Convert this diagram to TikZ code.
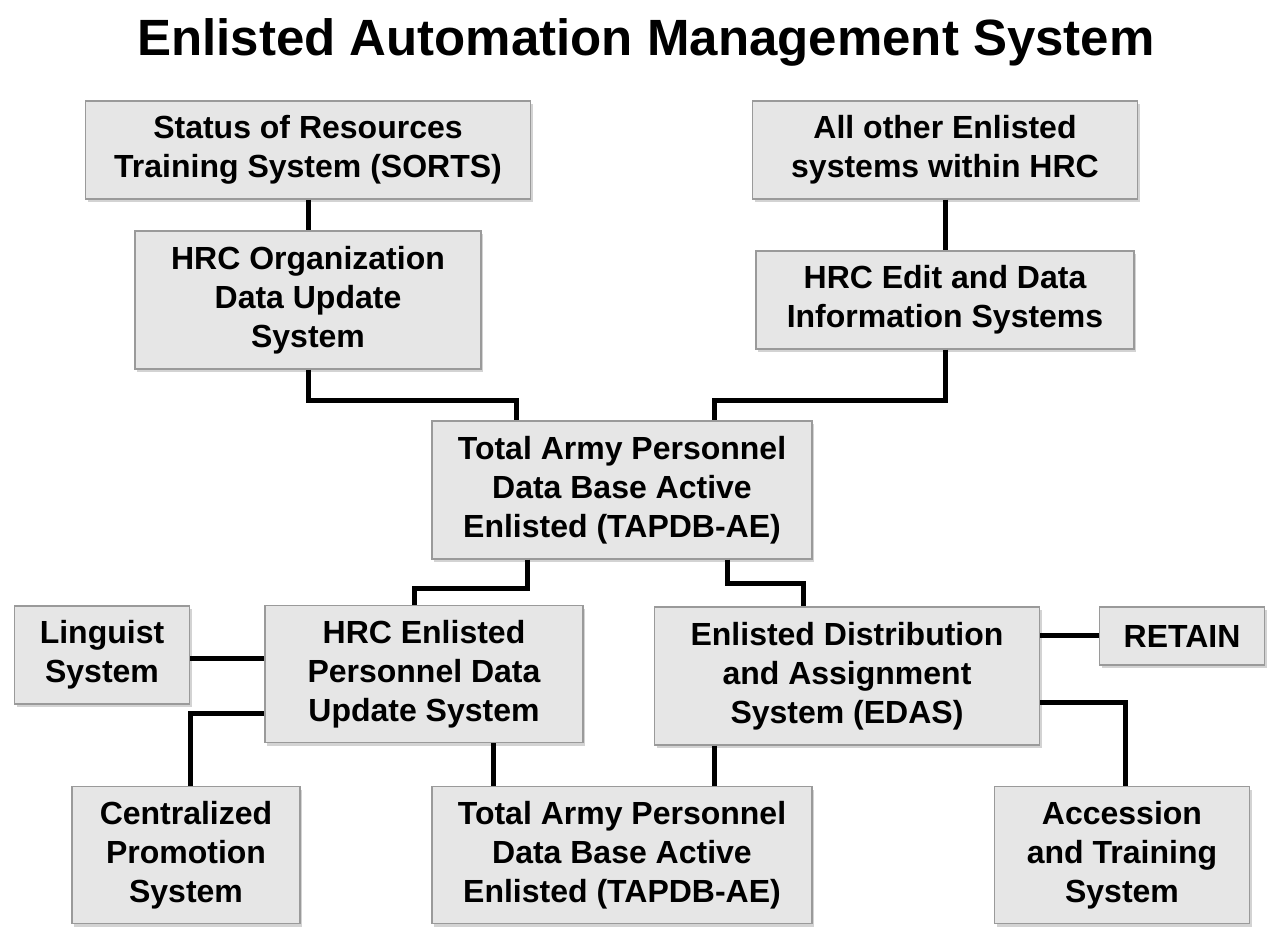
\documentclass[tikz,border=0pt]{standalone}
\usepackage{fontspec}
\setmainfont{Liberation Sans}
\usetikzlibrary{shadows}
\definecolor{boxfill}{HTML}{E6E6E6}
\definecolor{boxline}{HTML}{9A9A9A}
\tikzset{
  sysbox/.style={draw=boxline, line width=1.2pt, fill=boxfill, inner sep=0pt,
    align=center, font=\fontsize{32}{39}\selectfont\bfseries,
    drop shadow={shadow xshift=2pt, shadow yshift=-3pt, opacity=0.35, fill=gray}},
  conn/.style={line width=5pt, line join=miter, draw=black}
}
\begin{document}
\begin{tikzpicture}[x=1pt,y=-1pt]
\useasboundingbox (0,0) rectangle (1277,927);
\node (title) at (646,42) {\fontsize{51}{56}\selectfont\bfseries Enlisted Automation Management System};
\node[sysbox, minimum width=445pt, minimum height=98pt] (sorts) at (308,150) {Status of Resources\\Training System (SORTS)};
\node[sysbox, minimum width=346pt, minimum height=138pt] (org) at (308,300) {HRC Organization\\Data Update\\System};
\node[sysbox, minimum width=385pt, minimum height=98pt] (other) at (945,150) {All other Enlisted\\systems within HRC};
\node[sysbox, minimum width=378pt, minimum height=98pt] (edit) at (945,300) {HRC Edit and Data\\Information Systems};
\node[sysbox, minimum width=380pt, minimum height=138pt] (tap) at (622,490) {Total Army Personnel\\Data Base Active\\Enlisted (TAPDB-AE)};
\node[sysbox, minimum width=175pt, minimum height=98pt] (ling) at (102,655) {Linguist\\System};
\node[sysbox, minimum width=318pt, minimum height=137pt] (hrce) at (424,674) {HRC Enlisted\\Personnel Data\\Update System};
\node[sysbox, minimum width=385pt, minimum height=138pt] (edas) at (847,676) {Enlisted Distribution\\and Assignment\\System (EDAS)};
\node[sysbox, minimum width=165pt, minimum height=58pt] (retain) at (1182,636) {RETAIN};
\node[sysbox, minimum width=228pt, minimum height=137pt] (cps) at (186,855) {Centralized\\Promotion\\System};
\node[sysbox, minimum width=380pt, minimum height=137pt] (tap2) at (622,855) {Total Army Personnel\\Data Base Active\\Enlisted (TAPDB-AE)};
\node[sysbox, minimum width=255pt, minimum height=137pt] (acc) at (1122,855) {Accession\\and Training\\System};
% connectors
\draw[conn] (sorts.south) -- (org.north);
\draw[conn] (other.south) -- (edit.north);
\coordinate (j1) at (516,400);
\coordinate (j2) at (714,400);
\draw[conn] (org.south) |- (j1) -- (j1 |- tap.north);
\draw[conn] (edit.south) |- (j2) -- (j2 |- tap.north);
\coordinate (j3) at (527,588);
\coordinate (j4) at (414,588);
\draw[conn] (j3 |- tap.south) -- (j3) -- (j4) -- (j4 |- hrce.north);
\coordinate (j5) at (727,583);
\coordinate (j6) at (803,583);
\draw[conn] (j5 |- tap.south) -- (j5) -- (j6) -- (j6 |- edas.north);
\coordinate (j7) at (0,658);
\draw[conn] (ling.east |- j7) -- (hrce.west |- j7);
\coordinate (j8) at (190,713);
\draw[conn] (hrce.west |- j8) -- (j8) -- (j8 |- cps.north);
\coordinate (j9) at (0,635);
\draw[conn] (edas.east |- j9) -- (retain.west |- j9);
\coordinate (j10) at (1125,702);
\draw[conn] (edas.east |- j10) -- (j10) -- (j10 |- acc.north);
\coordinate (j11) at (493,0);
\draw[conn] (j11 |- hrce.south) -- (j11 |- tap2.north);
\coordinate (j12) at (714,0);
\draw[conn] (j12 |- edas.south) -- (j12 |- tap2.north);
\end{tikzpicture}
\end{document}
